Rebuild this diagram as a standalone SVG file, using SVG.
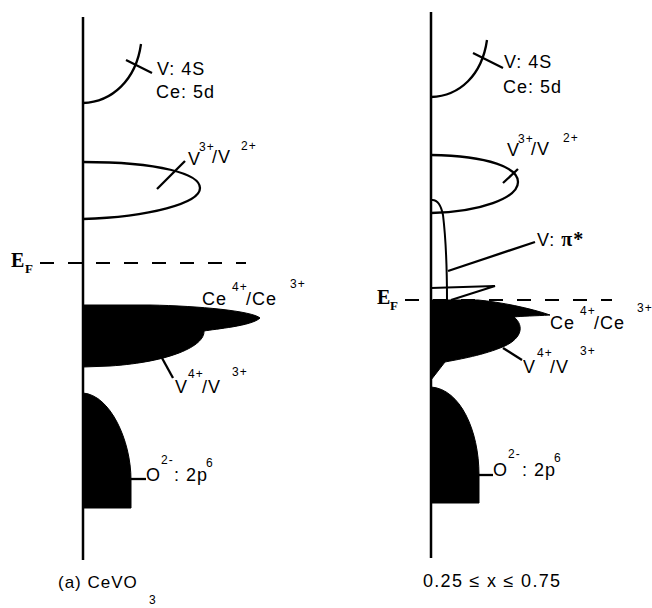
<svg xmlns="http://www.w3.org/2000/svg" width="652" height="608" viewBox="0 0 652 608">
<style>
.ax{stroke:#000;stroke-width:2.5;fill:none}
.ln{stroke:#000;stroke-width:2.3;fill:none;stroke-linecap:butt}
.thin{stroke:#000;stroke-width:2;fill:none}
.blk{fill:#000;stroke:#000;stroke-width:1}
.dash{stroke:#000;stroke-width:2;stroke-dasharray:14 14;fill:none}
text{font-family:"Liberation Sans",Arial,sans-serif;fill:#000}
.t{font-size:18px;letter-spacing:1px}
.s{font-size:12px}
.ef{font-family:"Liberation Serif","Times New Roman",serif;font-weight:bold;font-size:20px}
.efs{font-family:"Liberation Serif","Times New Roman",serif;font-weight:bold;font-size:13px}
.pi{font-family:"Liberation Serif","Times New Roman",serif;font-weight:bold;font-size:20px}
</style>
<rect width="652" height="608" fill="#fff"/>

<!-- Left panel -->
<g id="axis-left"><line class="ax" x1="83" y1="17" x2="83" y2="560"/></g>
<g id="left-v4s">
<path class="ln" d="M83,103 C112,102 136,80 141,44"/>
<text class="t" x="157" y="75">V: 4S</text>
<text class="t" x="156" y="98">Ce: 5d</text>
</g>
<g id="left-v3v2">
<path class="ln" d="M83,162 C160,162 200,174 200,188 C200,203 150,217 83,219"/>
<text class="t"><tspan x="188" y="165">V</tspan><tspan class="s" x="199" y="151">3+</tspan><tspan x="212" y="163">/V</tspan><tspan class="s" x="241" y="150">2+</tspan></text>
</g>
<g id="left-ef">
<text class="ef" x="11" y="267">E</text><text class="efs" x="25" y="273">F</text>
<line class="dash" x1="40" y1="263" x2="246" y2="263"/>
</g>
<g id="left-ce-v">
<path class="blk" d="M83,305 L150,305 C200,306 252,311 260,318 C252,326 215,329 204,331 C205,346 170,362 110,366 L83,367 Z"/>
<text class="t"><tspan x="202" y="305">Ce</tspan><tspan class="s" x="232" y="291">4+</tspan><tspan x="246" y="305">/Ce</tspan><tspan class="s" x="290" y="288">3+</tspan></text>
<text class="t"><tspan x="175" y="393">V</tspan><tspan class="s" x="188" y="378">4+</tspan><tspan x="202" y="393">/V</tspan><tspan class="s" x="232" y="376">3+</tspan></text>
</g>
<g id="left-o2p">
<path class="blk" d="M83,393 C110,395 131,440 131,480 L131,508 L83,508 Z"/>
<text class="t"><tspan x="146" y="481">O</tspan><tspan class="s" x="161" y="464">2-</tspan><tspan x="174" y="481">: 2p</tspan><tspan class="s" x="206" y="467">6</tspan></text>
</g>
<g id="label-left"><text class="t" x="58" y="588" style="font-size:17px">(a) CeVO</text><text class="s" x="149" y="604">3</text></g>

<!-- Right panel -->
<g id="axis-right"><line class="ax" x1="431" y1="12" x2="431" y2="558"/></g>
<g id="right-v4s">
<path class="ln" d="M431,97 C460,96 482,75 487,40"/>
<text class="t" x="504" y="68">V: 4S</text>
<text class="t" x="503" y="93">Ce: 5d</text>
</g>
<g id="right-v3v2">
<path class="ln" d="M431,155 C490,156 518,168 518,182 C518,198 480,212 431,213"/>
<text class="t"><tspan x="507" y="156">V</tspan><tspan class="s" x="518" y="143">3+</tspan><tspan x="531" y="155">/V</tspan><tspan class="s" x="563" y="142">2+</tspan></text>
</g>
<g id="right-pi">
<path class="thin" d="M431,200 C437,199 441,205 443,215 C446,240 447,270 447,300"/>
<text class="t" x="537" y="246">V: <tspan class="pi">π*</tspan></text>
</g>
<g id="right-ef">
<text class="ef" x="377" y="304">E</text><text class="efs" x="390" y="310">F</text>
<line class="dash" x1="405" y1="300" x2="612" y2="300"/>
</g>
<g id="right-ce-v">
<path class="thin" d="M431,288 L495,286 L451,300"/>
<path class="blk" d="M431,300 L478,300 C500,302 530,308 550,315 C535,316 522,316 514,317 C525,326 522,340 500,348 C480,356 455,360 445,362 C440,368 436,374 431,380 Z"/>
<text class="t"><tspan x="550" y="329">Ce</tspan><tspan class="s" x="580" y="315">4+</tspan><tspan x="594" y="329">/Ce</tspan><tspan class="s" x="637" y="312">3+</tspan></text>
<text class="t"><tspan x="523" y="373">V</tspan><tspan class="s" x="537" y="357">4+</tspan><tspan x="550" y="373">/V</tspan><tspan class="s" x="580" y="355">3+</tspan></text>
</g>
<g id="right-o2p">
<path class="blk" d="M431,387 C460,389 479,430 479,475 L479,503 L431,503 Z"/>
<text class="t"><tspan x="493" y="476">O</tspan><tspan class="s" x="508" y="458">2-</tspan><tspan x="522" y="476">: 2p</tspan><tspan class="s" x="554" y="462">6</tspan></text>
</g>
<g id="label-right"><text class="t" x="423" y="587" style="letter-spacing:1.3px">0.25 ≤ x ≤ 0.75</text></g>

<!-- Connectors / leader lines -->
<g id="connectors">
<line class="ln" x1="126" y1="60" x2="152" y2="73"/>
<line class="ln" x1="157" y1="189" x2="185" y2="161"/>
<line class="ln" x1="162" y1="358" x2="173" y2="378"/>
<line class="ln" x1="131" y1="479" x2="146" y2="479"/>
<line class="ln" x1="473" y1="53" x2="503" y2="68"/>
<line class="ln" x1="503" y1="183" x2="518" y2="169"/>
<line class="ln" x1="448" y1="271" x2="535" y2="242"/>
<line class="ln" x1="503" y1="348" x2="522" y2="360"/>
<line class="ln" x1="479" y1="475" x2="493" y2="475"/>
</g>
</svg>
